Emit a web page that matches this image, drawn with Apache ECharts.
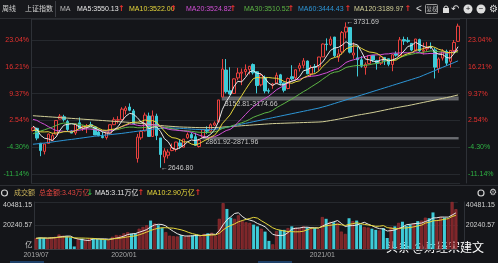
<!DOCTYPE html>
<html><head><meta charset="utf-8">
<script src="https://cdn.jsdelivr.net/npm/echarts@6/dist/echarts.min.js"></script>
<style>html,body{margin:0;padding:0;background:#141519;overflow:hidden}#c{width:498px;height:263px}</style>
</head><body><div id="c"></div>
<script>
// ---------- DATA ----------
const weeks = ['2019-07-26','2019-08-02','2019-08-09','2019-08-16','2019-08-23','2019-08-30','2019-09-06','2019-09-12','2019-09-20','2019-09-27','2019-09-30','2019-10-11','2019-10-18','2019-10-25','2019-11-01','2019-11-08','2019-11-15','2019-11-22','2019-11-29','2019-12-06','2019-12-13','2019-12-20','2019-12-27',
'2020-01-03','2020-01-10','2020-01-17','2020-01-23','2020-02-07','2020-02-14','2020-02-21','2020-02-28','2020-03-06','2020-03-13','2020-03-20','2020-03-27','2020-04-03','2020-04-10','2020-04-17','2020-04-24','2020-04-30','2020-05-08','2020-05-15','2020-05-22','2020-05-29','2020-06-05','2020-06-12','2020-06-19','2020-06-24','2020-07-03','2020-07-10','2020-07-17','2020-07-24','2020-07-31','2020-08-07','2020-08-14','2020-08-21','2020-08-28','2020-09-04','2020-09-11','2020-09-18','2020-09-25','2020-09-30','2020-10-09','2020-10-16','2020-10-23','2020-10-30','2020-11-06','2020-11-13','2020-11-20','2020-11-27','2020-12-04','2020-12-11','2020-12-18','2020-12-25','2020-12-31',
'2021-01-08','2021-01-15','2021-01-22','2021-01-29','2021-02-05','2021-02-10','2021-02-19','2021-02-26','2021-03-05','2021-03-12','2021-03-19','2021-03-26','2021-04-02','2021-04-09','2021-04-16','2021-04-23','2021-04-30','2021-05-07','2021-05-14','2021-05-21','2021-05-28','2021-06-04','2021-06-11','2021-06-18','2021-06-25','2021-07-02','2021-07-09','2021-07-16','2021-07-23','2021-07-30','2021-08-06','2021-08-13','2021-08-20','2021-08-27','2021-09-03','2021-09-10'];

const opens = [2925,2941,2830,2769,2828,2851,2898,3010,3027,2992,
2921,2906,2982,2941,2949,2968,2951,2913,2880,2872,
2904,2968,3002,3006,3074,3100,3071,2716,2870,2922,
3032,2880,3032,2869,2727,2740,2775,2783,2832,2800,
2870,2894,2878,2805,2873,2927,2920,2965,2989,3174.66,
3376,3221,3201,3317,3352,3364,3380,3417,3363,3265,
3321,3222,3262,3278,3340,3280,3238,3326,3318,3389,
3411,3443,3347,3400,3400,3474,3570,3565,3622,3470,
3511,3660,3693,3488,3467,3452,3395,3424,3485,3446,
3426,3470,3460,3417,3497,3483,3603,3598,3575,3523,
3603,3516,3533,3551,3526,3387,3465,3515,3440,3522,3590];

const highs = [2951,2945,2830,2826,2902,2904,3002,3047,3042,3005,
2926,2980,3022,2964,2973,2990,2951,2932,2915,2913,
2968,3023,3031,3098,3107,3127,3085,2899,2927,3058,
3058,3074,3050,2869,2792,2784,2828,2840,2857,2861,
2910,2910,2908,2861.92,2936,2956,2978,2993,3152.81,3458,
3458,3397,3314,3392,3387,3418,3406,3425,3368,3348,
3335,3239,3280,3357,3347,3281,3320,3412,3379,3429,
3465,3447,3412,3421,3474,3574,3612,3627,3623,3532,
3667,3731.69,3694,3582,3553,3480,3433,3485,3487,3452,
3479,3472,3460,3491,3515,3622,3625,3621,3576,3608,
3610,3580,3586,3582,3542,3470,3532,3528,3523,3600,3722];

const lows = [2917,2852,2733,2746,2828,2848,2896,3009,2991,2917,
2905,2891,2937,2921,2905,2960,2891,2882,2866,2857,
2904,2966,2976,2999,3044,3068,2970,2685,2855,2918,
2877,2880,2853,2646.80,2681,2715,2770,2767,2788,2799,
2860,2865,2813,2797,2871.96,2900,2904,2958,2984,3174.66,
3201,3193,3199,3300,3263,3335,3343,3342,3202,3254,
3202,3201,3236,3270,3263,3209,3232,3300,3300,3365,
3389,3345,3325,3357,3372,3474,3521,3556,3472,3437,
3493,3612,3500,3460,3328,3394,3341,3423,3436,3379,
3413,3413,3404,3367,3475,3478,3563,3579,3516,3518,
3512,3493,3518,3532,3313,3355,3447,3407,3395,3510,3586];

const closes = [2944.54,2867.84,2774.75,2823.82,2897.43,2886.24,2999.60,3031.24,3006.45,2932.17,
2905.19,2973.66,2938.14,2954.93,2958.20,2964.18,2891.34,2885.29,2871.98,2912.01,
2967.68,3004.94,3005.04,3083.79,3092.29,3075.50,2976.53,2875.96,2917.01,3039.67,
2880.30,3034.51,2887.43,2745.62,2772.20,2763.99,2796.63,2838.49,2808.53,2860.08,
2895.34,2868.46,2813.77,2852.35,2930.80,2919.74,2967.63,2979.55,3152.81,3383.32,
3214.13,3196.77,3310.01,3354.04,3360.10,3380.68,3403.81,3355.37,3260.35,3338.09,
3219.42,3218.05,3272.08,3336.36,3278.00,3224.53,3312.50,3310.10,3377.73,3408.31,
3444.58,3347.19,3394.90,3396.56,3473.07,3570.11,3566.38,3606.75,3483.07,3496.33,
3655.09,3696.17,3509.08,3502.96,3453.08,3404.66,3418.33,3484.39,3450.68,3426.62,
3474.17,3446.86,3418.87,3490.38,3486.56,3600.78,3591.84,3589.75,3525.10,3607.56,
3518.76,3524.09,3539.30,3550.40,3397.36,3458.23,3516.30,3427.33,3522.16,3581.73,3703.11];

// weekly closes before the first visible week (needed by the short averages)
const priorCloses = [2493.90,2514.87,2553.83,2596.01,2601.72,2618.23,2682.39,2804.23,2994.01,2969.86,
3021.75,3104.15,3090.76,3246.57,3188.63,3270.80,3086.40,3078.34,2939.21,2882.30,
2852.99,2898.70,2827.80,2881.97,3001.98,2978.88,3011.06,2930.55,2924.20];

// long averages
const ma60 = [2822,2825,2828,2831,2835,2839,2843,2847,2851,2855,
2858,2862,2866,2870,2874,2878,2882,2885,2888,2891,
2894,2897,2900,2903,2907,2911,2915,2919,2923,2927,
2931,2935,2938,2940,2942,2943,2943,2942,2941,2939,
2937,2935,2933,2932,2931,2931,2932,2934,2937,2942,
2948,2954,2960,2966,2972,2978,2984,2990,2996,3002,
3008,3014,3020,3026,3032,3038,3044,3050,3056,3062,
3068,3074,3080,3086,3092,3100,3108,3117,3126,3135,
3144,3153,3162,3171,3180,3189,3198,3207,3216,3225,
3234,3243,3252,3261,3270,3279,3288,3297,3306,3315,
3324,3336,3348,3360,3372,3384,3396,3408,3420,3432,3444.43];

const ma120 = [3035,3033,3031,3029,3027,3025,3023,3021,3019,3017,
3015,3013,3011,3009,3007,3005,3003,3001,2999,2997,
2995,2993,2991,2989,2987,2985,2983,2980,2977,2974,
2971,2968,2965,2962,2959,2957,2955,2953,2951,2950,
2949,2948,2947,2946,2946,2946,2946,2947,2948,2950,
2952,2954,2956,2958,2960,2962,2964,2966,2968,2970,
2972,2974,2976,2977,2978,2979,2980,2981,2982,2983,
2984,2985,2986,2987,2988,2990,2994,2999,3004,3009,
3015,3021,3027,3033,3039,3044,3049,3054,3059,3065,
3071,3077,3083,3089,3095,3100,3105,3110,3116,3122,
3128,3134,3140,3146,3152,3158,3164,3170,3176,3183,3189.97];

// weekly turnover (亿元)
const turnover = [9200,9800,9500,9000,10200,10500,12500,11500,11000,10000,
2200,8500,9000,8000,9000,9300,8600,8700,8100,7600,
10500,12000,11800,13500,14500,13200,13500,17500,19000,20500,
24500,22000,20500,18000,14500,11500,11000,10800,12000,10500,
11500,11800,12500,11000,13000,13500,14000,11500,26000,39500,
34500,27000,26000,29000,24000,23000,22500,21000,19500,17500,
15000,7000,4000,15500,16500,16500,18000,19500,18500,18000,
19500,18500,17500,18000,17000,27500,26000,23500,23000,22500,
15000,13000,26500,24000,24500,21000,19000,18500,17500,16500,
16000,18000,9500,19000,19500,22500,23500,20000,21000,22000,
24000,24500,27000,26500,31500,25000,27500,27000,26219,40481.15,34300];

const pctTickLabels = ['-11.14%','-4.30%','2.54%','9.37%','16.21%','23.04%'];
const volTickLabels = ['亿','20240.57','40481.15'];
const monthLabels = ['2019/07','2020/01','2021/01'];
const gapLows = [2861.92, 3152.81];
const gapHighs = [2871.96, 3174.66];
const gapWeeks = ['2020-06-05','2020-07-10'];
const peakWeek = '2021-02-19', peakValue = 3731.69;
const troughWeek = '2020-03-20', troughValue = 2646.80;

// ---------- HELPERS ----------
function movingAverage(values, prior, n) {
  const all = prior.concat(values), off = prior.length;
  return values.map((_, i) => {
    const end = off + i, start = Math.max(0, end - n + 1);
    let s = 0; for (let k = start; k <= end; k++) s += all[k];
    return +(s / (end - start + 1)).toFixed(2);
  });
}
const basePrice = priorCloses[priorCloses.length - 1];
function pctLabel(v) {
  for (const l of pctTickLabels) {
    const p = basePrice * (1 + parseFloat(l) / 100);
    if (Math.abs(p - v) < 5) return l;
  }
  return '';
}
const volMax = Math.max.apply(null, turnover);
const volStep = volMax / (volTickLabels.length - 1);
function volLabel(v) {
  const i = Math.round(v / volStep);
  return Math.abs(i * volStep - v) < 1 ? volTickLabels[i] : '';
}
const labelIdx = {};
monthLabels.forEach(m => { const key = m.replace('/', '-'); const i = weeks.findIndex(w => w.startsWith(key)); if (i >= 0) labelIdx[i] = m; });

const isUp = weeks.map((_, i) => closes[i] >= opens[i]);
const candles = weeks.map((_, i) => [opens[i], closes[i], lows[i], highs[i]]);
const ma5 = movingAverage(closes, priorCloses, 5);
const ma10 = movingAverage(closes, priorCloses, 10);
const ma20 = movingAverage(closes, priorCloses, 20);
const ma30 = movingAverage(closes, priorCloses, 30);
const vma5 = movingAverage(turnover, [], 5);
const vma10 = movingAverage(turnover, [], 10);

// ---------- STYLE ----------
const BG = '#141519', GRIDC = '#26292e', AXC = '#2e3137';
const UP = '#e8413e', DOWN = '#3ecbd8', VUP = '#7a2528';
const RED = '#e8322f', GREEN = '#2fb344';
const F = '"Liberation Sans", "Noto Sans CJK SC", sans-serif';
const FS = 7;
const yMin = 2532.8, yMax = 3756.7;

function txt(x, y, s, color, size, extra) {
  return Object.assign({ type: 'text', x: x, y: y, silent: true,
    style: Object.assign({ text: s, fill: color, font: (size || FS) + 'px ' + F, textVerticalAlign: 'middle' }, extra || {}) });
}
function arrow(x, y, color, down) {
  return txt(x, y, down ? '↓' : '↑', color, 8, { font: 'bold 8px "DejaVu Sans", sans-serif' });
}
const graphics = [
  { type: 'rect', shape: { x: 0, y: 0, width: 498, height: 18 }, style: { fill: '#17181c' }, silent: true },
  { type: 'line', shape: { x1: 0, y1: 18.5, x2: 498, y2: 18.5 }, style: { stroke: '#2c2e33' }, silent: true },
  { type: 'line', shape: { x1: 55.5, y1: 1, x2: 55.5, y2: 17 }, style: { stroke: '#3a3c42' }, silent: true },
  txt(2, 9, '周线', '#d0d0d0'),
  txt(25, 9, '上证指数', '#d0d0d0'),
  txt(60, 9, 'MA', '#bdbdbd'),
  txt(77, 9, 'MA5:3550.13', '#e6e6e6'), arrow(118, 9, RED),
  txt(129, 9, 'MA10:3522.00', '#e6d63b'), arrow(170, 9, RED),
  txt(186, 9, 'MA20:3524.82', '#d24fd6'), arrow(229.5, 9, RED),
  txt(244, 9, 'MA30:3510.52', '#5db545'), arrow(287.5, 9, RED),
  txt(298, 9, 'MA60:3444.43', '#2d95d6'), arrow(344.5, 9, RED),
  txt(354, 9, 'MA120:3189.97', '#d2cf97'), arrow(404.5, 9, RED),
  txt(416, 9, '<', '#dddddd', 10),
  { type: 'rect', shape: { x: 425.5, y: 4.5, width: 12, height: 9, r: 1 }, style: { fill: 'none', stroke: '#9a9a9a' }, silent: true },
  txt(426.5, 9, '复权', '#bbbbbb', 5.5),
  { type: 'rect', shape: { x: 443, y: 8, width: 6, height: 5 }, style: { fill: '#dddddd' }, silent: true },
  { type: 'arc', shape: { cx: 446, cy: 8, r: 2, startAngle: Math.PI, endAngle: 2 * Math.PI }, style: { stroke: '#dddddd', fill: 'none', lineWidth: 1 }, silent: true },
  txt(451, 9, '↶', '#dddddd', 10),
  { type: 'circle', shape: { cx: 468, cy: 9, r: 4.5 }, style: { fill: '#dddddd' }, silent: true },
  txt(468, 9, '+', '#17181c', 8, { textAlign: 'center' }),
  { type: 'circle', shape: { cx: 481, cy: 9, r: 4.5 }, style: { fill: '#dddddd' }, silent: true },
  txt(481, 9, '−', '#17181c', 8, { textAlign: 'center' }),
  txt(493, 9, '⚙', '#dddddd', 10, { textAlign: 'center' }),
  // volume header
  { type: 'line', shape: { x1: 0, y1: 185.5, x2: 498, y2: 185.5 }, style: { stroke: '#2c2e33' }, silent: true },
  { type: 'circle', shape: { cx: 4.5, cy: 193, r: 3 }, style: { fill: 'none', stroke: '#cfcfcf', lineWidth: 1.2 }, silent: true },
  txt(14, 193, '成交额', '#c9b25a'),
  txt(39, 193, '总金额:3.43万亿', '#e0453f'), arrow(86.5, 193, GREEN, true),
  txt(95, 193, 'MA5:3.11万亿', '#e6e6e6'), arrow(137.5, 193, RED),
  txt(147, 193, 'MA10:2.90万亿', '#e6d63b'), arrow(194.5, 193, RED),
  { type: 'circle', shape: { cx: 481, cy: 193, r: 3 }, style: { fill: 'none', stroke: '#cfcfcf', lineWidth: 1.2 }, silent: true },
  txt(493, 193, '⚙', '#cfcfcf', 9, { textAlign: 'center' }),
  // bottom strip
  { type: 'rect', shape: { x: 10, y: 261, width: 34, height: 2 }, style: { fill: '#1d3f66' }, silent: true },
  { type: 'rect', shape: { x: 258, y: 261, width: 34, height: 2 }, style: { fill: '#1d3f66' }, silent: true },
  // watermark
  txt(386, 247, '头条 @财经宋建文', '#ffffff', 12, { font: '12px "Noto Sans CJK SC", sans-serif', shadowColor: 'rgba(0,0,0,0.7)', shadowBlur: 2 })
];

const maLine = (name, data, color) => ({
  name: name, type: 'line', data: data, xAxisIndex: 0, yAxisIndex: 0, showSymbol: false, symbol: 'none',
  lineStyle: { width: 1, color: color }, itemStyle: { color: color }, z: 3, silent: true
});

const option = {
  backgroundColor: BG,
  animation: false,
  graphic: { elements: graphics },
  grid: [
    { left: 31, right: 38, top: 19, height: 164 },
    { left: 31, right: 38, top: 202, height: 47 }
  ],
  xAxis: [
    { type: 'category', gridIndex: 0, data: weeks, boundaryGap: true, axisLine: { show: false }, axisTick: { show: false }, axisLabel: { show: false }, splitLine: { show: false } },
    { type: 'category', gridIndex: 1, data: weeks, boundaryGap: true, axisLine: { show: true, lineStyle: { color: '#3a3d42' } }, axisTick: { show: false },
      axisLabel: { show: true, color: '#a8a8a8', fontSize: FS, fontFamily: F, margin: 3,
        interval: (i) => labelIdx[i] !== undefined, formatter: (v, i) => labelIdx[i] || '' }, splitLine: { show: false } }
  ],
  yAxis: [
    { type: 'value', gridIndex: 0, position: 'left', min: yMin, max: yMax, scale: true,
      axisLine: { show: true, lineStyle: { color: AXC } }, axisTick: { show: false },
      axisLabel: { margin: 2, fontSize: FS, fontFamily: F, formatter: pctLabel,
        color: (v) => (pctLabel(v).charAt(0) === '-' ? GREEN : RED) },
      splitLine: { show: true, lineStyle: { color: GRIDC, width: 1 } } },
    { type: 'value', gridIndex: 0, position: 'right', offset: 6, min: yMin, max: yMax, scale: true,
      axisLine: { show: true, lineStyle: { color: AXC } }, axisTick: { show: false },
      axisLabel: { margin: 2, fontSize: FS, fontFamily: F, formatter: pctLabel,
        color: (v) => (pctLabel(v).charAt(0) === '-' ? GREEN : RED) },
      splitLine: { show: false } },
    { type: 'value', gridIndex: 1, position: 'left', min: 0, max: volMax, interval: volStep,
      axisLine: { show: true, lineStyle: { color: AXC } }, axisTick: { show: false },
      axisLabel: { margin: 2, fontSize: FS, fontFamily: F, color: '#cfcfcf', formatter: volLabel,
        verticalAlignMaxLabel: 'top', verticalAlignMinLabel: 'bottom' },
      splitLine: { show: true, lineStyle: { color: GRIDC } } },
    { type: 'value', gridIndex: 1, position: 'right', offset: 6, min: 0, max: volMax, interval: volStep,
      axisLine: { show: true, lineStyle: { color: AXC } }, axisTick: { show: false },
      axisLabel: { margin: 2, fontSize: FS, fontFamily: F, color: '#cfcfcf',
        formatter: (v) => (volLabel(v) === '亿' ? '' : volLabel(v)),
        verticalAlignMaxLabel: 'top', verticalAlignMinLabel: 'bottom' },
      splitLine: { show: false } }
  ],
  series: [
    { name: 'K', type: 'candlestick', xAxisIndex: 0, yAxisIndex: 0, data: candles, barWidth: 3, z: 2,
      itemStyle: { color: BG, color0: DOWN, borderColor: UP, borderColor0: DOWN, borderWidth: 1 },
      markPoint: { symbol: 'circle', symbolSize: 1, silent: true, itemStyle: { color: 'rgba(0,0,0,0)' },
        label: { show: true, position: 'right', distance: 0, color: '#c8c8c8', fontSize: FS, fontFamily: F },
        data: [
          { coord: [peakWeek, peakValue], label: { formatter: '←' + peakValue.toFixed(2) } },
          { coord: [troughWeek, troughValue], label: { formatter: '←' + troughValue.toFixed(2) } }
        ] },
      markArea: { silent: true,
        itemStyle: { color: 'rgba(108,110,115,0.85)', borderColor: 'rgba(108,110,115,0.85)', borderWidth: 1.2 },
        label: { show: true, color: '#c4c4c4', fontSize: FS, fontFamily: F },
        data: gapWeeks.map((w, k) => [
          { xAxis: w, yAxis: gapHighs[k], name: gapLows[k].toFixed(2) + '-' + gapHighs[k].toFixed(2),
            label: { position: k === 0 ? [3, 2] : [3, 4] } },
          { xAxis: weeks[weeks.length - 1], yAxis: gapLows[k] }
        ]) } },
    maLine('MA120', ma120, '#d2cf97'),
    maLine('MA60', ma60, '#2d95d6'),
    maLine('MA30', ma30, '#5db545'),
    maLine('MA20', ma20, '#d24fd6'),
    maLine('MA10', ma10, '#e6d63b'),
    maLine('MA5', ma5, '#e8e8e8'),
    { name: 'VOL', type: 'bar', xAxisIndex: 1, yAxisIndex: 2, barWidth: 3, silent: true,
      data: turnover.map((v, i) => ({ value: v, itemStyle: isUp[i] ? { color: VUP, borderColor: '#a03336', borderWidth: 0.6 } : { color: DOWN } })) },
    { name: 'VMA5', type: 'line', xAxisIndex: 1, yAxisIndex: 2, data: vma5, showSymbol: false, symbol: 'none', lineStyle: { width: 1, color: '#e8e8e8' }, z: 3, silent: true },
    { name: 'VMA10', type: 'line', xAxisIndex: 1, yAxisIndex: 2, data: vma10, showSymbol: false, symbol: 'none', lineStyle: { width: 1, color: '#e6d63b' }, z: 3, silent: true }
  ]
};
const chart = echarts.init(document.getElementById('c'), null, { renderer: 'canvas', width: 498, height: 263 });
chart.setOption(option);
</script>
</body></html>
